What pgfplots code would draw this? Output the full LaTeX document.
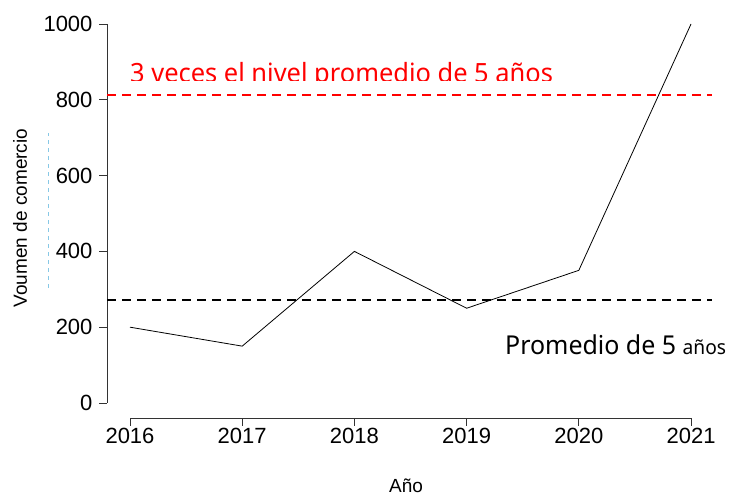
\documentclass[border=0pt]{standalone}
\usepackage{pgfplots}
\pgfplotsset{compat=1.18}
\usepackage{fontspec}
\setmainfont{Liberation Sans}
\newfontfamily\annfont[FakeStretch=0.96]{Noto Sans}
\definecolor{skyb}{RGB}{135,200,230}
\begin{document}
\begin{tikzpicture}
\path[use as bounding box] (0pt,0pt) rectangle (734pt,497pt);
\begin{axis}[
 at={(107pt,79pt)}, anchor=south west,
 scale only axis, width=605pt, height=394pt,
 xmin=2015.795, xmax=2021.187, ymin=-39.6, ymax=1000,
 axis lines*=left, axis line style={draw=none},
 clip=false,
 xtick={2016,2017,2018,2019,2020,2021}, ytick={0,200,400,600,800,1000},
 tick align=outside, major tick length=8pt,
 tick style={black!80, line width=0.9pt},
 scaled ticks=false,
 /pgf/number format/assume math mode=true,
 /pgf/number format/1000 sep={},
 xticklabel style={font=\fontsize{22}{26}\selectfont, yshift=1pt},
 yticklabel style={font=\fontsize{22}{26}\selectfont, xshift=-3pt},
]
\draw[black!80, line width=0.9pt] (axis cs:2015.795,0) -- (axis cs:2015.795,1000);
\draw[black!80, line width=0.9pt] (axis cs:2016,-39.6) -- (axis cs:2021,-39.6);
\addplot[red, line width=1.6pt, dash pattern=on 9pt off 6pt] coordinates {(2015.795,812) (2021.187,812)};
\addplot[black, line width=1.6pt, dash pattern=on 9pt off 6pt] coordinates {(2015.795,272) (2021.187,272)};
\addplot[black, line width=0.8pt] coordinates {
(2016,200) (2017,150) (2018,400) (2019,250) (2020,350) (2021,1000)};
\end{axis}
\begin{scope}
\clip (0pt,416pt) rectangle (734pt,497pt);
\node[anchor=base west, inner sep=0pt, text=red, font=\annfont\fontsize{26.5}{30}\selectfont] at (130pt,414pt) {3 veces el nivel promedio de 5 años};
\end{scope}
\node[anchor=base west, inner sep=0pt, font=\annfont\fontsize{26}{30}\selectfont] at (505pt,142pt) {Promedio de 5 {\fontsize{20}{24}\selectfont años}};
\node[rotate=90, inner sep=0pt, font=\fontsize{19}{23}\selectfont] at (20pt,279pt) {Voumen de comercio};
\node[inner sep=0pt, font=\fontsize{19}{23}\selectfont] at (406pt,11pt) {Año};
\draw[skyb, line width=0.6pt, dash pattern=on 4pt off 4pt] (48pt,209pt) -- (48pt,364pt);
\end{tikzpicture}
\end{document}
